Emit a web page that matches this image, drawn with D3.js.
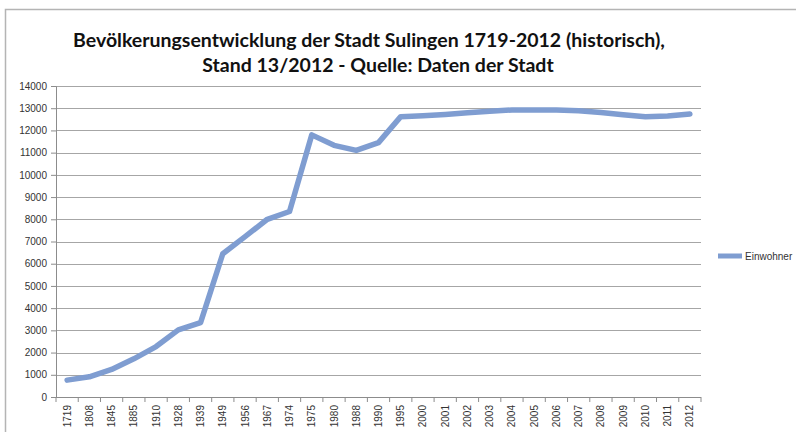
<!DOCTYPE html>
<html>
<head>
<meta charset="utf-8">
<title>Bevölkerungsentwicklung Sulingen</title>
<script src="https://d3js.org/d3.v7.min.js"></script>
<style>
  body { margin: 0; background: #fff; }
  svg { display: block; }
</style>
</head>
<body>
<script>
// Jahre (Kategorien)
var years = ["1719", "1808", "1845", "1885", "1910", "1928", "1939", "1949", "1956", "1967",
  "1974", "1975", "1980", "1988", "1990", "1995", "2000", "2001", "2002", "2003",
  "2004", "2005", "2006", "2007", "2008", "2009", "2010", "2011", "2012"];

// Einwohner
var einwohner = [760, 910, 1240, 1720, 2270, 3020, 3350, 6450, 7220, 8000,
  8350, 11800, 11330, 11100, 11450, 12620, 12660, 12720, 12800, 12860,
  12920, 12920, 12920, 12890, 12810, 12710, 12620, 12650, 12740];

var yTicks = [0, 1000, 2000, 3000, 4000, 5000, 6000, 7000, 8000, 9000, 10000, 11000, 12000, 13000, 14000];

var w = 796, h = 432;
var plotLeft = 56, plotRight = 701, plotTop = 86, plotBottom = 397;

var svg = d3.select("body").append("svg")
  .attr("width", w)
  .attr("height", h);

// Rahmen des Diagramms
svg.append("path")
  .attr("d", "M5.5," + h + "V9.5H" + w)
  .attr("fill", "none")
  .attr("stroke", "#b4b4b4")
  .attr("stroke-width", 1.5);

// Titel
var title = svg.append("text")
  .attr("text-anchor", "middle")
  .attr("font-family", "Lato, 'Open Sans', sans-serif")
  .attr("font-weight", "bold")
  .attr("font-size", 19.5)
  .attr("fill", "#111");
title.append("tspan").attr("x", 369).attr("y", 47)
  .text("Bevölkerungsentwicklung der Stadt Sulingen 1719-2012 (historisch),");
title.append("tspan").attr("x", 378).attr("y", 72)
  .text("Stand 13/2012 - Quelle: Daten der Stadt");

var x = d3.scalePoint()
  .domain(years)
  .range([plotLeft, plotRight])
  .padding(0.5);

var band = (plotRight - plotLeft) / years.length;

var y = d3.scaleLinear()
  .domain([0, 14000])
  .range([plotBottom, plotTop]);

// Gitternetzlinien
svg.append("g")
  .selectAll("line")
  .data(yTicks.slice(1))
  .enter()
  .append("line")
  .attr("x1", plotLeft)
  .attr("x2", plotRight)
  .attr("y1", d => Math.round(y(d)) + 0.5)
  .attr("y2", d => Math.round(y(d)) + 0.5)
  .attr("stroke", "#a6a6a6")
  .attr("stroke-width", 1);

// Y-Achse
var yAxis = d3.axisLeft(y)
  .tickValues(yTicks)
  .tickFormat(d3.format("d"))
  .tickSize(5)
  .tickPadding(4);

var gy = svg.append("g")
  .attr("transform", "translate(" + plotLeft + ",0)")
  .call(yAxis);
gy.selectAll("line, path").attr("stroke", "#8c8c8c");
gy.selectAll("text")
  .attr("font-family", "'Liberation Sans', Arial, sans-serif")
  .attr("font-size", 10)
  .attr("fill", "#333");

// X-Achse
var gx = svg.append("g")
  .attr("transform", "translate(0," + plotBottom + ")");
gx.append("line")
  .attr("x1", plotLeft).attr("x2", plotRight)
  .attr("y1", 0.5).attr("y2", 0.5)
  .attr("stroke", "#8c8c8c");
gx.selectAll("line.tick")
  .data(d3.range(years.length + 1))
  .enter()
  .append("line")
  .attr("class", "tick")
  .attr("x1", i => plotLeft + i * band)
  .attr("x2", i => plotLeft + i * band)
  .attr("y1", 0)
  .attr("y2", 5)
  .attr("stroke", "#8c8c8c");
gx.selectAll("text")
  .data(years)
  .enter()
  .append("text")
  .attr("transform", d => "translate(" + (x(d) + 3.5) + ",8) rotate(-90)")
  .attr("text-anchor", "end")
  .attr("font-family", "'Liberation Sans', Arial, sans-serif")
  .attr("font-size", 10)
  .attr("fill", "#333")
  .text(d => d);

// Linie
var line = d3.line()
  .x((d, i) => x(years[i]))
  .y(d => y(d));

svg.append("path")
  .datum(einwohner)
  .attr("d", line)
  .attr("fill", "none")
  .attr("stroke", "#7f9dd1")
  .attr("stroke-width", 5.5)
  .attr("stroke-linejoin", "round")
  .attr("stroke-linecap", "round");

// Legende
svg.append("line")
  .attr("x1", 718).attr("x2", 742)
  .attr("y1", 256).attr("y2", 256)
  .attr("stroke", "#7f9dd1")
  .attr("stroke-width", 5);
svg.append("text")
  .attr("x", 745)
  .attr("y", 259.5)
  .attr("font-family", "'Liberation Sans', Arial, sans-serif")
  .attr("font-size", 10)
  .attr("fill", "#333")
  .text("Einwohner");
</script>
</body>
</html>
